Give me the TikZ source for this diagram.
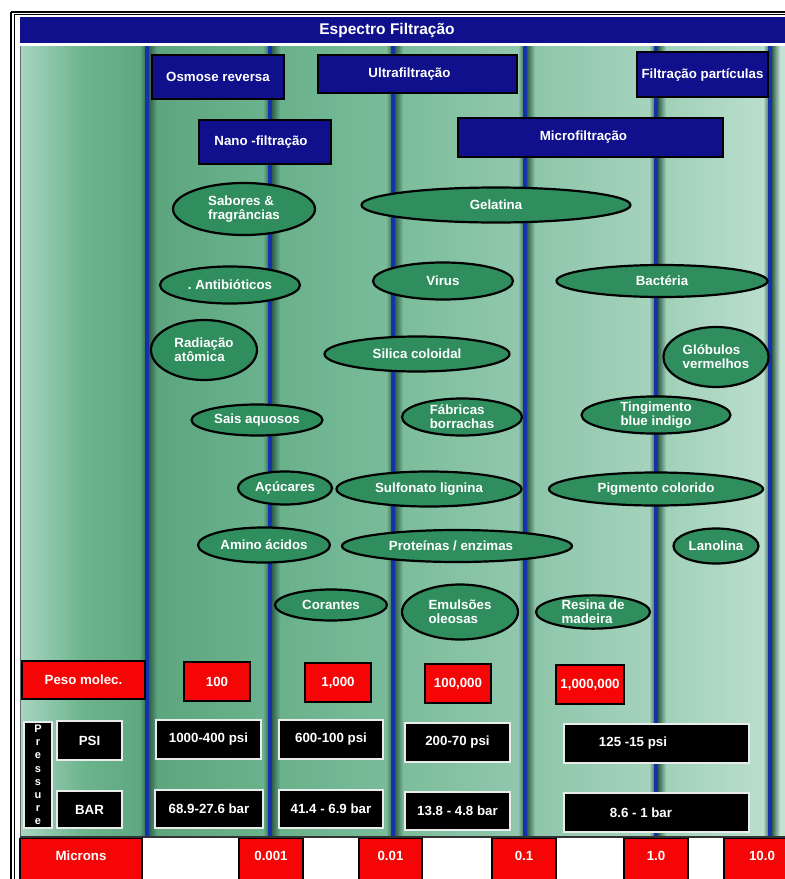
\documentclass[tikz,border=0pt]{standalone}
\usepackage{fontspec}
\setmainfont{Liberation Sans}
\usetikzlibrary{shapes.geometric}
\definecolor{navy}{RGB}{16,16,140}
\definecolor{ovalgreen}{RGB}{47,141,94}
\definecolor{boxred}{RGB}{245,5,5}
\definecolor{boxedge}{RGB}{232,236,234}
\definecolor{bline}{RGB}{20,50,170}
\definecolor{shadowc}{RGB}{50,95,75}
\definecolor{colAL}{RGB}{168,213,192}
\definecolor{colAM}{RGB}{108,180,142}
\definecolor{colAR}{RGB}{92,166,127}
\definecolor{colBL}{RGB}{92,164,126}
\definecolor{colBR}{RGB}{106,179,141}
\definecolor{colCL}{RGB}{104,176,138}
\definecolor{colCR}{RGB}{122,188,154}
\definecolor{colDL}{RGB}{122,188,154}
\definecolor{colDR}{RGB}{146,200,173}
\definecolor{colEL}{RGB}{140,197,168}
\definecolor{colER}{RGB}{166,211,189}
\definecolor{colFL}{RGB}{158,207,183}
\definecolor{colFR}{RGB}{188,223,206}
\definecolor{colGL}{RGB}{194,226,211}
\newcommand\upl[1]{\raisebox{6.5pt}[\height][\depth]{#1}}
\tikzset{
  lbl/.style={font=\bfseries\fontsize{13.3}{13.8}\selectfont, text=white},
  sz/.style 2 args={minimum width=#1pt, minimum height=#2pt},
  bluebox/.style={lbl, draw=black, line width=1.6pt, fill=navy, inner sep=0pt},
  oval/.style={lbl, ellipse, draw=black, line width=2.2pt, fill=ovalgreen, inner sep=0pt, align=left},
  redbox/.style={lbl, draw=black, line width=1.8pt, fill=boxred, inner sep=0pt},
  darkbox/.style={lbl, draw=boxedge, line width=2pt, fill=black, inner sep=0pt},
  vline/.style={draw=bline, line width=4pt},
}
\begin{document}
\begin{tikzpicture}[x=1pt,y=-1pt]
\useasboundingbox (0,0) rectangle (785,879);
\clip (0,0) rectangle (785,879);
\fill[white] (0,0) rectangle (785,879);
% outer frame
\draw[line width=2pt] (11,11.5) -- (800,11.5);
\draw[line width=2pt] (11,11.5) -- (11,900);
\draw[line width=0.7pt] (14,14.5) -- (800,14.5);
\draw[line width=0.7pt] (14,14.5) -- (14,900);
% title bar
\fill[navy] (20,17) rectangle (800,43);
\node[lbl, font=\bfseries\fontsize{15.5}{15.5}\selectfont] (title) at (387,30) {Espectro Filtração};
% column backgrounds
\shade[left color=colAL, right color=colAR, middle color=colAM] (20,46) rectangle (147,836);
\shade[left color=colBL, right color=colBR] (147,46) rectangle (270,836);
\shade[left color=colCL, right color=colCR] (270,46) rectangle (393,836);
\shade[left color=colDL, right color=colDR] (393,46) rectangle (525,836);
\shade[left color=colEL, right color=colER] (525,46) rectangle (656,836);
\shade[left color=colFL, right color=colFR] (656,46) rectangle (770,836);
\fill[colGL] (770,46) rectangle (800,836);
% shadows beside the lines
\foreach \x/\c in {147/colBL,270/colCL,393/colDL,525/colEL,656/colFL,770/colGL}
  {\shade[left color=shadowc, right color=\c] (\x+2,46) rectangle (\x+10,836);}
\foreach \x/\c in {147/colAR,270/colBR,393/colCR,525/colDR,656/colER,770/colFR}
  {\shade[left color=\c, right color=shadowc!70!\c] (\x-7,46) rectangle (\x-2,836);}
\draw[black!60, line width=1pt] (20.5,46) -- (20.5,836);
% vertical lines
\foreach \x in {147,270,393,525,656,770}
  {\draw[vline] (\x,46) -- (\x,836);}
% process boxes
\node[bluebox, sz={132}{44}] (osm) at (218,77) {Osmose reversa};
\node[bluebox, sz={199}{38}] (ultra) at (417.5,74) {Ultrafiltração\hspace*{16pt}};
\node[bluebox, sz={131}{45}] (part) at (702.5,74.5) {Filtração partículas};
\node[bluebox, sz={132}{44}] (nano) at (265,142) {Nano -filtração\hspace*{8pt}};
\node[bluebox, sz={265}{39}] (micro) at (590.5,137.5) {Microfiltração\hspace*{14pt}};
% substances
\node[oval, sz={142}{52}] (sab) at (244,209) {Sabores \&\\fragrâncias};
\node[oval, sz={269}{35}] (gel) at (496,205) {Gelatina};
\node[oval, sz={140}{37}] (anti) at (230,285) {.\ Antibióticos};
\node[oval, sz={140}{37}] (vir) at (443,281) {Virus};
\node[oval, sz={211}{32}] (bac) at (662,281) {Bactéria};
\node[oval, sz={106}{60}] (rad) at (204,350) {Radiação\\atômica};
\node[oval, sz={185}{35}] (sil) at (417,354) {Silica coloidal};
\node[oval, sz={105}{60}] (glo) at (716,357) {Glóbulos\\vermelhos};
\node[oval, sz={131}{31}] (sais) at (257,420) {Sais aquosos};
\node[oval, sz={120}{37}] (fab) at (462,417) {Fábricas\\borrachas};
\node[oval, sz={149}{34}, align=center] (ting) at (656,415) {Tingimento\\blue indigo};
\node[oval, sz={94}{33}] (acu) at (285,488) {Açúcares};
\node[oval, sz={185}{35}] (sulf) at (429,489) {Sulfonato lignina};
\node[oval, sz={214}{33}] (pig) at (656,489) {Pigmento colorido};
\node[oval, sz={132}{35}] (amino) at (264,545) {Amino ácidos};
\node[oval, sz={230}{32}] (prot) at (457,546) {Proteínas / enzimas\hspace*{12pt}};
\node[oval, sz={85}{35}] (lan) at (716,546) {Lanolina};
\node[oval, sz={112}{31}] (cor) at (331,605) {Corantes};
\node[oval, sz={116}{55}] (emu) at (460,612) {Emulsões\\oleosas};
\node[oval, sz={114}{32}] (res) at (593,612) {Resina de\\madeira};
% molecular weight
\node[redbox, sz={123}{38}] (peso) at (83.5,680) {Peso molec.};
\node[redbox, sz={66}{39}] (mw1) at (217,681.5) {100};
\node[redbox, sz={66}{39}] (mw2) at (338,682.5) {1,000};
\node[redbox, sz={66}{39}] (mw3) at (458,683.5) {100,000};
\node[redbox, sz={68}{39}] (mw4) at (590,684.5) {1,000,000};
% pressure
\node[darkbox, sz={28}{106}, align=center, font=\bfseries\fontsize{11}{13.2}\selectfont] (press) at (38,775) {P\\r\\e\\s\\s\\u\\r\\e};
\node[darkbox, sz={65}{39}] (psi) at (89.5,740.5) {PSI};
\node[darkbox, sz={65}{37}] (bar) at (89.5,809.5) {BAR};
\node[darkbox, sz={105}{39}] (p1) at (208.5,739.5) {1000-400 psi};
\node[darkbox, sz={108}{38}] (b1) at (209,809) {68.9-27.6 bar};
\node[darkbox, sz={104}{39}] (p2) at (331,739.5) {600-100 psi};
\node[darkbox, sz={104}{38}] (b2) at (331,809) {41.4 - 6.9 bar};
\node[darkbox, sz={105}{39}] (p3) at (457.5,742.5) {200-70 psi};
\node[darkbox, sz={105}{38}] (b3) at (457.5,811) {13.8 - 4.8 bar};
\node[darkbox, sz={185}{39}] (p4) at (656.5,743.5) {};
\node[lbl] (p4t) at (633,743.5) {125 -15 psi};
\node[darkbox, sz={185}{39}] (b4) at (656.5,812.5) {};
\node[lbl] (b4t) at (641,812.5) {8.6 - 1 bar};
% microns row
\fill[white] (20,837) rectangle (800,890);
\draw[black!80, line width=1.2pt] (20,837) -- (800,837);
\node[redbox, sz={122}{47}] (mic) at (81,862) {\upl{Microns}};
\node[redbox, sz={64}{47}] (u1) at (271,862) {\upl{0.001}};
\node[redbox, sz={63}{47}] (u2) at (390.5,862) {\upl{0.01}};
\node[redbox, sz={64}{47}] (u3) at (524,862) {\upl{0.1}};
\node[redbox, sz={64}{47}] (u4) at (656,862) {\upl{1.0}};
\node[redbox, sz={76}{47}] (u5) at (762,862) {\upl{10.0}};
\end{tikzpicture}
\end{document}
